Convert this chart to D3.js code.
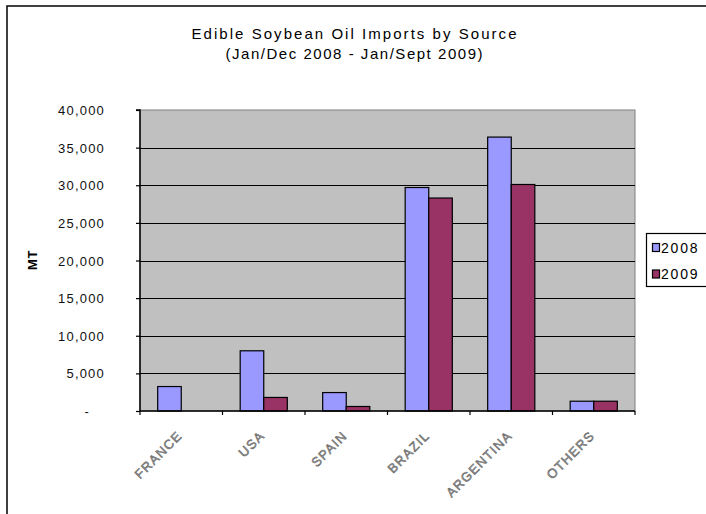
<!DOCTYPE html>
<html><head><meta charset="utf-8">
<script src="https://cdn.jsdelivr.net/npm/d3@7"></script>
<style>
body{margin:0;background:#fff;}
svg{display:block;font-family:"Liberation Sans",Arial,sans-serif;}
</style></head>
<body>
<svg id="c" width="706" height="514"></svg>
<script>
const categories = ["FRANCE","USA","SPAIN","BRAZIL","ARGENTINA","OTHERS"];
const seriesNames = ["2008","2009"];
const values2008 = [3250, 8000, 2450, 29700, 36400, 1300];
const values2009 = [0, 1800, 600, 28300, 30100, 1300];
const yTicks = [0,5000,10000,15000,20000,25000,30000,35000,40000];
const titleLines = ["Edible Soybean Oil Imports by Source","(Jan/Dec 2008 - Jan/Sept 2009)"];
const yLabel = "MT";
const colors = ["#9999ff","#993366"];

const svg = d3.select("#c");
const plot = {left:140, right:635, top:110, bottom:411};

// outer chart border (cropped on right/bottom)
svg.append("rect").attr("x",7).attr("y",6).attr("width",740).attr("height",540)
  .attr("fill","#fff").attr("stroke","#000").attr("stroke-width",1.5);

// title
const tl = [{t:titleLines[0], y:39, len:325},{t:titleLines[1], y:59, len:257}];
svg.selectAll(".title").data(tl).enter().append("text")
  .attr("x",354).attr("y",d=>d.y).attr("text-anchor","middle")
  .attr("font-size",15).attr("fill","#000")
  .attr("textLength",d=>d.len).attr("lengthAdjust","spacing")
  .text(d=>d.t);

const x0 = d3.scaleBand().domain(categories).range([plot.left, plot.right]).paddingInner(0).paddingOuter(0);
const x1 = d3.scaleBand().domain(seriesNames).range([0, x0.bandwidth()]).paddingInner(0).paddingOuter(0.75);
const y = d3.scaleLinear().domain([0,40000]).range([plot.bottom, plot.top]);

// plot background
svg.append("rect").attr("x",plot.left).attr("y",plot.top)
  .attr("width",plot.right-plot.left).attr("height",plot.bottom-plot.top)
  .attr("fill","#c0c0c0").attr("stroke","#808080").attr("stroke-width",1);

// gridlines
svg.append("g").selectAll("line").data(yTicks.filter(v=>v>0 && v<40000)).enter().append("line")
  .attr("x1",plot.left).attr("x2",plot.right)
  .attr("y1",d=>Math.round(y(d))+0.5).attr("y2",d=>Math.round(y(d))+0.5)
  .attr("stroke","#000").attr("stroke-width",1.2);

// bars
const data = categories.map((c,i)=>({cat:c, vals:[values2008[i], values2009[i]]}));
const g = svg.append("g");
data.forEach(d=>{
  d.vals.forEach((v,j)=>{
    if(v<=0) return;
    g.append("rect")
      .attr("x", x0(d.cat)+x1(seriesNames[j]))
      .attr("y", y(v))
      .attr("width", x1.bandwidth())
      .attr("height", y(0)-y(v))
      .attr("fill", colors[j]).attr("stroke","#000").attr("stroke-width",1.2);
  });
});

// y axis
const yAxis = d3.axisLeft(y).tickValues(yTicks).tickSize(4).tickPadding(31)
  .tickFormat(d=> d===0 ? "-" : d3.format(",")(d));
const ya = svg.append("g").attr("transform",`translate(${plot.left},0)`).call(yAxis);
ya.select(".domain").attr("stroke","#000").attr("stroke-width",1.5).attr("d",`M-4,${plot.top}H0V${plot.bottom}`);
ya.selectAll(".tick line").attr("stroke","#000").attr("stroke-width",1.2);
ya.selectAll(".tick text").attr("font-size",13).attr("fill","#111")
  .attr("font-family","Liberation Sans, Arial, sans-serif").style("letter-spacing","1.2px")
  .attr("dy","0.35em");
ya.selectAll(".tick").filter(d=>d===0).select("text").attr("x",-50);

// x axis
const xAxis = d3.axisBottom(x0).tickSize(0).tickFormat("");
const xa = svg.append("g").attr("transform",`translate(0,${plot.bottom})`).call(xAxis);
xa.select(".domain").attr("stroke","#000").attr("stroke-width",1.5).attr("d",`M${plot.left},0H${plot.right}`);
const bounds = categories.map(c=>x0(c)).concat([plot.right]);
svg.append("g").selectAll("line").data(bounds).enter().append("line")
  .attr("x1",d=>d).attr("x2",d=>d).attr("y1",plot.bottom).attr("y2",plot.bottom+4)
  .attr("stroke","#000").attr("stroke-width",1.2);

// category labels
svg.append("g").selectAll("text").data(categories).enter().append("text")
  .attr("transform",d=>`translate(${x0(d)+x0.bandwidth()/2-5},${430}) rotate(-45)`)
  .attr("text-anchor","end").attr("dy","0.72em")
  .attr("font-size",13).attr("fill","#9a9a9a").attr("stroke","#555").attr("stroke-width",0.45)
  .style("letter-spacing","1.2px")
  .text(d=>d);

// y label
svg.append("text").attr("transform","translate(37,260) rotate(-90)")
  .attr("text-anchor","middle").attr("font-size",13).attr("font-weight","bold")
  .style("letter-spacing","0.5px").text(yLabel);

// legend
const lg = svg.append("g");
lg.append("rect").attr("x",646.5).attr("y",233.5).attr("width",70).attr("height",53)
  .attr("fill","#fff").attr("stroke","#000").attr("stroke-width",1.2);
seriesNames.forEach((s,i)=>{
  const cy = 247.5 + i*26.5;
  lg.append("rect").attr("x",652.5).attr("y",cy-4).attr("width",7).attr("height",8)
    .attr("fill",colors[i]).attr("stroke","#000").attr("stroke-width",1.2);
  lg.append("text").attr("x",661).attr("y",cy).attr("dy","0.36em")
    .attr("font-size",14).style("letter-spacing","1.8px").text(s);
});
</script>
</body></html>
